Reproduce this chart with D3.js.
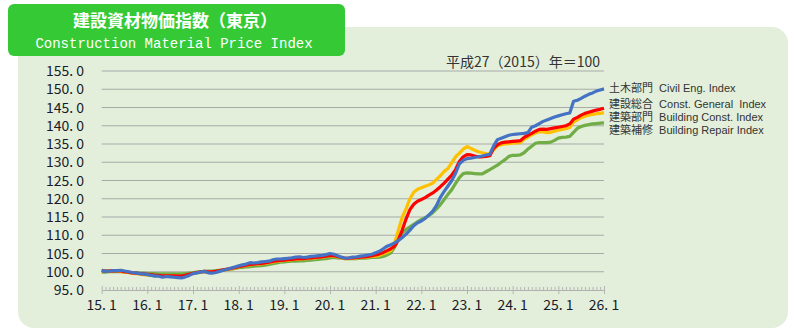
<!DOCTYPE html>
<html>
<head>
<meta charset="utf-8">
<script src="https://cdn.jsdelivr.net/npm/d3@7/dist/d3.min.js"></script>
<style>
  html, body { margin: 0; padding: 0; background: #ffffff; }
  svg { display: block; }
</style>
</head>
<body>
<svg id="chart" width="794" height="335"></svg>
<script>
// Monthly index values, Jan 2015 .. Jan 2026 (2015 = 100)
const startYear = 2015;
const yTicks = [95, 100, 105, 110, 115, 120, 125, 130, 135, 140, 145, 150, 155];
const xTickLabels = ["15.1", "16.1", "17.1", "18.1", "19.1", "20.1", "21.1", "22.1", "23.1", "24.1", "25.1", "26.1"];

const civilEng = [
  100.4, 100.1, 100.2, 100.3, 100.3, 100.4, 100.2, 100.0, 99.8, 99.7, 99.5, 99.4,
  99.2, 99.0, 98.8, 98.8, 98.5, 98.7, 98.6, 98.5, 98.4, 98.3, 98.6, 99.0,
  99.5, 99.7, 99.9, 100.1, 99.7, 99.6, 99.8, 100.1, 100.4, 100.7, 101.0, 101.3,
  101.6, 101.9, 102.1, 102.5, 102.4, 102.5, 102.7, 102.8, 102.9, 103.3, 103.5, 103.5,
  103.6, 103.7, 103.8, 104.0, 104.1, 103.9, 104.0, 104.2, 104.3, 104.4, 104.5, 104.7,
  105.0, 104.8, 104.4, 104.0, 103.7, 103.8, 104.0, 104.1, 104.3, 104.4, 104.6, 104.8,
  105.2, 105.6, 106.3, 107.0, 107.4, 107.9, 108.6, 109.4, 110.3, 111.4, 112.6, 113.4,
  113.9, 114.6, 115.6, 116.6, 118.2, 120.4, 122.0, 123.5, 125.0, 127.0, 129.6, 130.5,
  131.0, 131.1, 131.3, 131.5, 131.7, 132.0, 132.2, 134.5, 136.2, 136.6, 137.0, 137.4,
  137.6, 137.7, 137.8, 137.9, 138.1, 139.6, 140.0, 140.6, 141.2, 141.6, 142.0, 142.4,
  142.7, 143.0, 143.3, 143.5, 146.7, 147.0, 147.5, 148.1, 148.6, 149.0, 149.5, 149.8,
  150.1
];

const constGeneral = [
  100.3, 100.2, 100.2, 100.3, 100.2, 100.2, 100.0, 99.9, 99.7, 99.6, 99.5, 99.4,
  99.3, 99.2, 99.0, 99.0, 98.9, 98.9, 98.9, 98.9, 98.8, 98.8, 99.0, 99.3,
  99.6, 99.8, 100.0, 100.1, 100.0, 100.0, 100.1, 100.3, 100.5, 100.7, 100.9, 101.1,
  101.4, 101.6, 101.8, 102.0, 102.1, 102.2, 102.3, 102.4, 102.6, 102.8, 103.0, 103.1,
  103.2, 103.3, 103.4, 103.5, 103.6, 103.6, 103.7, 103.8, 103.9, 104.0, 104.1, 104.3,
  104.5, 104.4, 104.2, 103.9, 103.7, 103.7, 103.8, 103.9, 104.0, 104.1, 104.2, 104.4,
  104.6, 104.9, 105.3, 105.8, 106.3, 107.0, 108.8, 111.5, 114.5, 117.0, 118.5, 119.3,
  119.8, 120.3, 121.0, 121.6, 122.4, 123.3, 124.3, 125.4, 126.5, 128.0, 130.2, 131.5,
  132.1, 132.0, 131.7, 131.5, 131.5, 131.6, 131.8, 133.8, 134.8, 135.3, 135.5, 135.6,
  135.7, 135.8, 135.9, 136.8, 137.4, 137.9, 138.5, 139.0, 139.1, 139.0, 139.2, 139.4,
  139.6, 139.8, 140.0, 140.5, 141.8, 142.3, 142.9, 143.4, 143.7, 144.0, 144.3, 144.5,
  144.8
];

const buildingConst = [
  100.5, 100.2, 100.3, 100.3, 100.2, 100.1, 99.9, 99.8, 99.6, 99.5, 99.4, 99.2,
  99.1, 99.0, 98.9, 98.9, 98.8, 98.8, 98.8, 98.8, 98.7, 98.7, 98.9, 99.2,
  99.5, 99.7, 99.9, 100.0, 99.9, 99.9, 100.0, 100.2, 100.4, 100.6, 100.8, 101.0,
  101.3, 101.5, 101.7, 101.9, 102.0, 102.1, 102.2, 102.3, 102.5, 102.7, 102.9, 103.0,
  103.1, 103.2, 103.3, 103.4, 103.5, 103.5, 103.6, 103.7, 103.8, 103.9, 104.0, 104.2,
  104.4, 104.3, 104.1, 103.8, 103.6, 103.6, 103.7, 103.8, 103.9, 104.0, 104.1, 104.2,
  104.3, 104.5, 104.9, 105.3, 105.8, 108.0, 111.5, 115.0, 117.3, 120.0, 121.8, 122.6,
  123.0, 123.4, 123.8, 124.3, 125.3, 126.3, 127.5, 128.3, 129.9, 131.5, 132.5, 133.6,
  134.3, 133.8, 133.3, 132.9, 132.6, 132.4, 132.3, 133.4, 134.5, 134.8, 135.0, 135.1,
  135.2, 135.3, 135.4, 136.3, 136.9, 137.5, 138.0, 138.4, 138.3, 138.1, 138.2, 138.5,
  138.8, 139.0, 139.2, 139.5, 141.0, 141.6, 142.2, 142.6, 142.9, 143.1, 143.3, 143.4,
  143.6
];

const buildingRepair = [
  99.9, 99.9, 100.0, 100.1, 100.0, 100.0, 99.9, 99.8, 99.7, 99.7, 99.6, 99.6,
  99.5, 99.5, 99.5, 99.4, 99.4, 99.4, 99.4, 99.4, 99.4, 99.4, 99.5, 99.6,
  99.8, 99.9, 100.0, 100.1, 100.2, 100.2, 100.3, 100.4, 100.5, 100.6, 100.7, 100.9,
  101.1, 101.2, 101.3, 101.4, 101.5, 101.6, 101.7, 101.8, 102.0, 102.2, 102.4, 102.6,
  102.7, 102.8, 102.9, 102.9, 103.0, 103.0, 103.1, 103.2, 103.3, 103.4, 103.5, 103.6,
  103.8, 103.9, 103.8, 103.7, 103.6, 103.6, 103.6, 103.6, 103.7, 103.7, 103.8, 103.9,
  103.9, 104.0, 104.2, 104.6, 105.2, 106.8, 109.3, 110.6, 111.6, 112.3, 113.0, 113.7,
  114.3, 114.8, 115.4, 116.2, 117.2, 118.4, 119.8, 121.2, 122.5, 124.2, 125.8, 126.9,
  127.1, 127.0, 126.9, 126.8, 126.8, 127.4, 128.0, 128.6, 129.2, 130.0, 130.7, 131.6,
  131.9, 131.9, 132.0, 132.6, 133.6, 134.4, 135.2, 135.4, 135.4, 135.4, 135.5, 136.0,
  136.6, 136.8, 136.9, 137.1, 138.2, 139.3, 139.8, 140.1, 140.3, 140.5, 140.6, 140.7,
  140.8
];

const seriesNames = [
  "土木部門  Civil Eng. Index",
  "建設総合  Const. General  Index",
  "建築部門  Building Const. Index",
  "建築補修  Building Repair Index"
];
const seriesColors = ["#4472c4", "#ff0000", "#ffc000", "#70ad47"];

const svg = d3.select("#chart");
const jpFont = "'Noto Sans CJK JP', 'Noto Sans', sans-serif";

// Background panel
svg.append("rect")
  .attr("x", 18).attr("y", 27).attr("width", 770).attr("height", 301)
  .attr("rx", 16).attr("ry", 16)
  .attr("fill", "#e3efda");

// Title box
svg.append("rect")
  .attr("x", 8).attr("y", 4).attr("width", 337).attr("height", 52)
  .attr("rx", 6).attr("ry", 6)
  .attr("fill", "#35ca35");
svg.append("text")
  .attr("x", 175).attr("y", 27)
  .attr("text-anchor", "middle")
  .attr("font-family", jpFont)
  .attr("font-weight", "bold")
  .attr("font-size", 17)
  .attr("fill", "#ffffff")
  .text("建設資材物価指数（東京）");
svg.append("text")
  .attr("x", 174).attr("y", 48)
  .attr("text-anchor", "middle")
  .attr("font-family", "'Liberation Mono', 'DejaVu Sans Mono', monospace")
  .attr("font-size", 14)
  .attr("fill", "#ffffff")
  .text("Construction Material Price Index");

// Scales
const nMonths = civilEng.length - 1;
const x = d3.scaleLinear().domain([0, nMonths]).range([101.7, 604]);
const y = d3.scaleLinear().domain([95, 155]).range([290, 71]);

// Gridlines
svg.append("g")
  .selectAll("line")
  .data(yTicks.filter(v => v > 95))
  .join("line")
  .attr("x1", x(0)).attr("x2", x(nMonths))
  .attr("y1", d => y(d)).attr("y2", d => y(d))
  .attr("stroke", "#a8aaa8").attr("stroke-width", 1.2);

// Y axis labels
const fmt = v => v.toFixed(1).replace(".", ". ");
svg.append("g")
  .selectAll("text")
  .data(yTicks)
  .join("text")
  .attr("x", 84).attr("y", d => y(d))
  .attr("dy", "0.36em")
  .attr("text-anchor", "end")
  .attr("font-family", jpFont)
  .attr("font-size", 14)
  .attr("fill", "#1a1a2a")
  .text(d => fmt(d));

// X axis with monthly minor ticks
const xAxis = d3.axisBottom(x)
  .tickValues(d3.range(0, nMonths + 1))
  .tickSize(0)
  .tickFormat("");
const xg = svg.append("g").attr("transform", `translate(0,${y(95)})`).call(xAxis);
xg.select(".domain").attr("stroke", "#b0b0b0").attr("stroke-width", 1);
xg.selectAll(".tick line").remove();
xg.selectAll(".tick").append("line")
  .attr("y1", d => d % 12 === 0 ? -4 : -3)
  .attr("y2", d => d % 12 === 0 ? 4 : 1)
  .attr("stroke", "#b4b4b4").attr("stroke-width", 1);

svg.append("g")
  .selectAll("text")
  .data(xTickLabels)
  .join("text")
  .attr("x", (d, i) => x(i * 12))
  .attr("y", 305)
  .attr("dy", "0.36em")
  .attr("text-anchor", "middle")
  .attr("font-family", jpFont)
  .attr("font-size", 14)
  .attr("fill", "#1a1a2a")
  .text(d => d.replace(".", ". "));

// Base note
svg.append("text")
  .attr("x", 600).attr("y", 62)
  .attr("dy", "0.36em")
  .attr("text-anchor", "end")
  .attr("font-family", jpFont)
  .attr("font-size", 14)
  .attr("fill", "#333333")
  .text("平成27（2015）年＝100");

// Lines (drawn back to front)
const allSeries = [civilEng, constGeneral, buildingConst, buildingRepair];
const line = d3.line().x((d, i) => x(i)).y(d => y(d));
const drawOrder = [3, 2, 1, 0];
svg.append("g")
  .selectAll("path")
  .data(drawOrder)
  .join("path")
  .attr("d", k => line(allSeries[k]))
  .attr("fill", "none")
  .attr("stroke", k => seriesColors[k])
  .attr("stroke-width", 3.2)
  .attr("stroke-linejoin", "round");

// Legend (Latin face first keeps the line boxes compact; kanji fall back to CJK)
const legendY = [88, 104, 117, 130];
svg.append("g")
  .selectAll("text")
  .data(seriesNames)
  .join("text")
  .attr("x", 609)
  .attr("y", (d, i) => legendY[i])
  .attr("dy", "0.36em")
  .attr("font-family", "'Liberation Sans', 'Noto Sans CJK JP', sans-serif")
  .attr("font-size", 11)
  .attr("fill", "#333333")
  .attr("xml:space", "preserve")
  .style("white-space", "pre")
  .text(d => d);
</script>
</body>
</html>
